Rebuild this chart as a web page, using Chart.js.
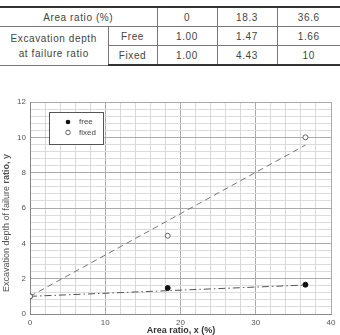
<!DOCTYPE html>
<html>
<head>
<meta charset="utf-8">
<script src="https://cdn.jsdelivr.net/npm/chart.js@4/dist/chart.umd.min.js"></script>
<style>
body{margin:0;width:340px;height:335px;background:#fff;position:relative;overflow:hidden;font-family:"Liberation Sans",Arial,sans-serif;}
#tbl{position:absolute;top:6px;left:0;width:340px;border-collapse:collapse;font-size:10px;color:#444;letter-spacing:0.6px;}
#tbl td{border:1px solid #777;text-align:center;height:18px;padding:0;}
#tbl tr:first-child td{border-top:2px solid #333;}
#tbl tr:last-child td{border-bottom:2px solid #333;}
#tbl td:first-child{border-left:none;}
#tbl tr td:last-child{border-right:none;}
#chart{position:absolute;top:90px;left:0;}
</style>
</head>
<body>
<table id="tbl"></table>
<canvas id="chart" width="340" height="245"></canvas>
<script>
const areaRatio = [0, 18.3, 36.6];
const freeDepth = [1.00, 1.47, 1.66];
const fixedDepth = [1.00, 4.43, 10];
const freeLabels = ['1.00', '1.47', '1.66'];
const fixedLabels = ['1.00', '4.43', '10'];
const areaLabels = ['0', '18.3', '36.6'];
const fixedTrendX = [0, 36.6];
const fixedTrendY = [1.0, 9.56];
const freeTrendX = [0, 36.6];
const freeTrendY = [1.0, 1.64];

// table
const tbl = document.getElementById('tbl');
tbl.innerHTML =
  `<colgroup><col style="width:108px"><col style="width:49px"><col style="width:60px"><col style="width:60px"><col style="width:63px"></colgroup>` +
  `<tr><td colspan="2">Area ratio (%)</td>${areaLabels.map(v=>`<td>${v}</td>`).join('')}</tr>` +
  `<tr><td rowspan="2" style="line-height:15px">Excavation depth<br>at failure ratio</td><td>Free</td>${freeLabels.map(v=>`<td>${v}</td>`).join('')}</tr>` +
  `<tr><td>Fixed</td>${fixedLabels.map(v=>`<td>${v}</td>`).join('')}</tr>`;

const pts = (xs, ys) => xs.map((x,i)=>({x:x,y:ys[i]}));
const isMult = (v,m) => Math.abs(v/m - Math.round(v/m)) < 1e-6;

const extras = {
  id:'extras',
  afterDraw(chart){
    const c = chart.ctx;
    c.save();
    // legend
    c.fillStyle = '#fff';
    c.strokeStyle = '#555';
    c.lineWidth = 1;
    c.fillRect(49.5, 22.5, 54, 32);
    c.strokeRect(49.5, 22.5, 54, 32);
    c.beginPath(); c.arc(68, 32, 2.3, 0, Math.PI*2); c.fillStyle = '#111'; c.fill();
    c.beginPath(); c.arc(68, 42.5, 2.3, 0, Math.PI*2); c.fillStyle = '#fff'; c.fill(); c.strokeStyle = '#666'; c.stroke();
    c.fillStyle = '#444';
    c.font = '8px "Liberation Sans", Arial, sans-serif';
    c.textBaseline = 'middle';
    c.textAlign = 'left';
    c.fillText('free', 79, 32);
    c.fillText('fixed', 79, 42.5);
    // x title
    c.fillStyle = '#333';
    c.font = 'bold 9px "Liberation Sans", Arial, sans-serif';
    c.textAlign = 'center';
    c.fillText('Area ratio, x (%)', 181, 241);
    // y title, mixed weight
    c.fillStyle = '#555';
    c.translate(7, 133);
    c.rotate(-Math.PI/2);
    const a = 'Excavation depth of failure ';
    const b = 'ratio, y';
    c.font = '9px "Liberation Sans", Arial, sans-serif';
    const wa = c.measureText(a).width;
    c.font = 'bold 9px "Liberation Sans", Arial, sans-serif';
    const wb = c.measureText(b).width;
    const start = -(wa+wb)/2;
    c.textAlign = 'left';
    c.font = '9px "Liberation Sans", Arial, sans-serif';
    c.fillText(a, start, 0);
    c.font = 'bold 9px "Liberation Sans", Arial, sans-serif';
    c.fillText(b, start+wa, 0);
    c.restore();
  }
};

new Chart(document.getElementById('chart'), {
  type:'scatter',
  data:{datasets:[
    {label:'fixed', data:pts(areaRatio, fixedDepth), order:0, pointRadius:2.5, pointBackgroundColor:'#fff', pointBorderColor:'#666', pointBorderWidth:1, showLine:false},
    {label:'free', data:pts(areaRatio, freeDepth), order:1, pointRadius:2.5, pointBackgroundColor:'#111', pointBorderColor:'#111', showLine:false},
    {label:'fixed trend', data:pts(fixedTrendX, fixedTrendY), order:2, showLine:true, pointRadius:0, borderColor:'#777', borderWidth:1, borderDash:[6,4]},
    {label:'free trend', data:pts(freeTrendX, freeTrendY), order:3, showLine:true, pointRadius:0, borderColor:'#555', borderWidth:1, borderDash:[7,3,1.5,3]}
  ]},
  options:{
    responsive:false,
    animation:false,
    devicePixelRatio:1,
    layout:{padding:{top:12,right:9,left:0,bottom:0}},
    plugins:{legend:{display:false},tooltip:{enabled:false}},
    scales:{
      x:{
        type:'linear', min:0, max:40,
        afterFit(s){ s.height = 21; },
        ticks:{stepSize:2, autoSkip:false, maxRotation:0, padding:4, color:'#555', font:{size:8, family:'"Liberation Sans", Arial, sans-serif'},
          callback:v=>isMult(v,10)?v:''},
        grid:{drawTicks:false, color:ctx=>isMult(ctx.tick.value,10)?'#aaa':'#d8d8d8', lineWidth:1},
        border:{color:'#888'}
      },
      y:{
        min:0, max:12,
        afterFit(s){ s.width = 30; },
        ticks:{stepSize:0.4, autoSkip:false, padding:4, color:'#555', font:{size:8, family:'"Liberation Sans", Arial, sans-serif'},
          callback:v=>isMult(v,2)?Math.round(v):''},
        grid:{drawTicks:false, color:ctx=>isMult(ctx.tick.value,2)?'#aaa':'#dcdcdc', lineWidth:1},
        border:{color:'#888'}
      }
    }
  },
  plugins:[extras]
});
</script>
</body>
</html>
